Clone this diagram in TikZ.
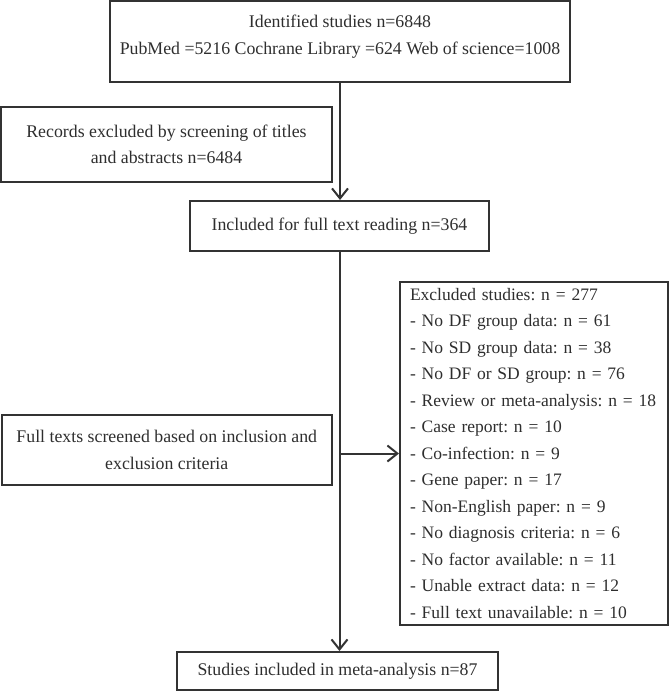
\documentclass[tikz,border=0pt]{standalone}
\usepackage{fontspec}
\setmainfont{Liberation Serif}
\usepackage{tikz}
\usetikzlibrary{positioning}
\usetikzlibrary{arrows.meta}
\usetikzlibrary{calc}

\definecolor{linegray}{HTML}{333333}
\definecolor{textgray}{HTML}{2E2E2E}

\tikzset{
	box/.style={draw=linegray, line width=2pt, text=textgray, inner sep=0pt,
		font=\fontsize{17.8}{26.3}\selectfont\frenchspacing, align=center},
	listbox/.style={box, align=left, inner xsep=10pt,
		font=\fontsize{17.5}{26.5}\selectfont\frenchspacing},
	flow/.style={draw=linegray, line width=2pt,
		-{Straight Barb[length=10pt,width=16pt,line width=2pt]}}
}

\begin{document}
\begin{tikzpicture}[x=1pt,y=-1pt]
		\useasboundingbox (0,0) rectangle (671,691);

		% Define the coordinates of the box centres
		\coordinate (T) at (340,41.5);
		\coordinate (R) at (166.5,144.5);
		\coordinate (I) at (339.5,226);
		\coordinate (F) at (166.75,450);
		\coordinate (X) at (534,453.5);
		\coordinate (S) at (337.5,670.75);

		% Place the boxes
		\node[box, minimum width=460, minimum height=81] (ident) at (T)
			{Identified studies n=6848\\PubMed =5216 Cochrane Library =624 Web of science=1008\\[-13pt]\mbox{}};
		\node[box, minimum width=331, minimum height=75] (records) at (R)
			{Records excluded by screening of titles\\and abstracts n=6484};
		\node[box, minimum width=299, minimum height=50] (fullread) at (I)
			{Included for full text reading n=364};
		\node[box, minimum width=330.5, minimum height=70] (screened) at (F)
			{Full texts screened based on inclusion and\\exclusion criteria};
		\node[listbox, minimum width=268, minimum height=343, text width=248] (excluded) at (X)
			{Excluded studies: n~=~277\\
			- No DF group data: n~=~61\\
			- No SD group data: n~=~38\\
			- No DF or SD group: n~=~76\\
			- Review or meta-analysis: n~=~18\\
			- Case report: n~=~10\\
			- Co-infection: n~=~9\\
			- Gene paper: n~=~17\\
			- Non-English paper: n~=~9\\
			- No diagnosis criteria: n~=~6\\
			- No factor available: n~=~11\\
			- Unable extract data: n~=~12\\
			- Full text unavailable: n~=~10};
		\node[box, minimum width=321, minimum height=37.5] (included) at (S)
			{Studies included in meta-analysis n=87};

		% Draw the arrows
		\coordinate (branch) at (fullread.south |- excluded.west);
		\draw[flow] (ident.south) -- (ident.south |- fullread.north);
		\draw[flow] (fullread.south) -- (fullread.south |- included.north);
		\draw[flow] (branch) -- (excluded.west);
	\end{tikzpicture}
\end{document}
